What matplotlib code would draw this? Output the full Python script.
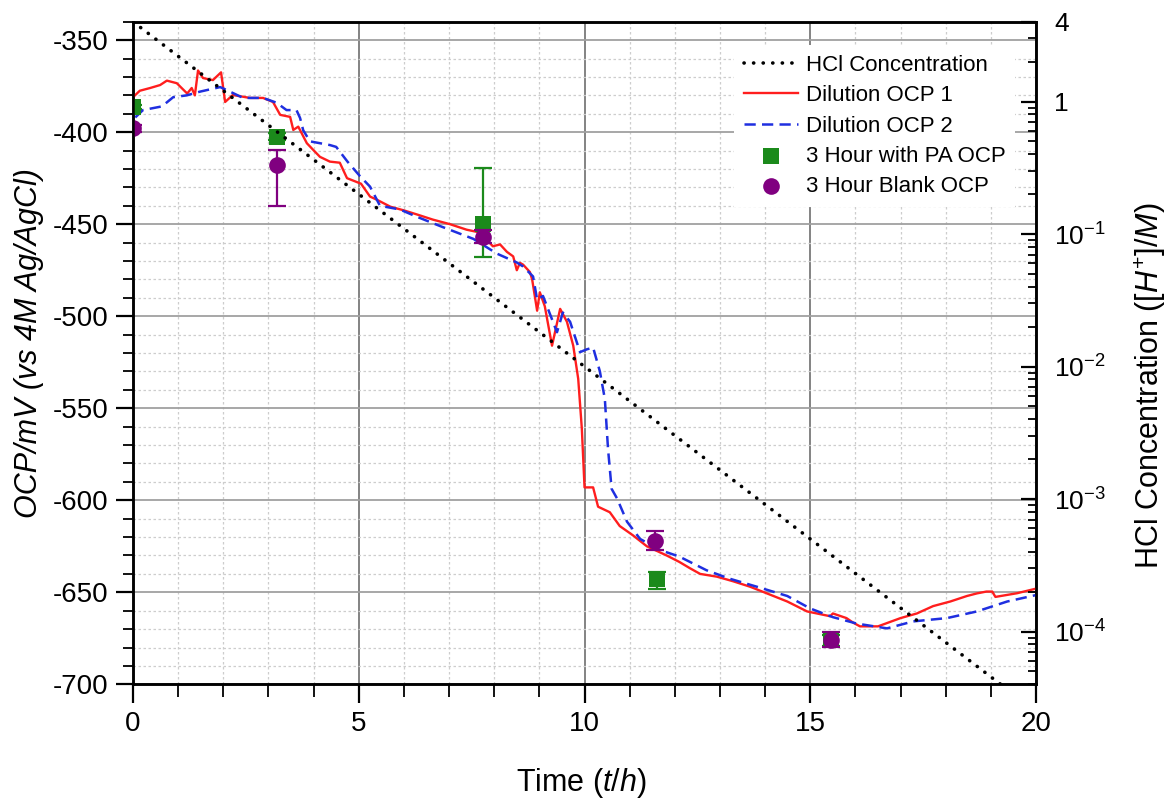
import numpy as np
import matplotlib
matplotlib.use("Agg")
import matplotlib.pyplot as plt
from matplotlib.ticker import MultipleLocator, FixedLocator, FixedFormatter, LogLocator, NullFormatter, FuncFormatter

plt.rcParams['font.family'] = ['Liberation Sans', 'DejaVu Sans']
plt.rcParams['mathtext.fontset'] = 'custom'
plt.rcParams['mathtext.rm'] = 'Liberation Sans'
plt.rcParams['mathtext.it'] = 'Liberation Sans:italic'
plt.rcParams['mathtext.bf'] = 'Liberation Sans:bold'

# ---------------- data ----------------
hcl_time = [0.0, 5.0, 10.0, 15.0, 20.0]
hcl_conc = [4.0, 0.2, 1.0e-2, 5.0e-4, 2.5e-5]

ocp1_time = [0.0, 0.15, 0.38, 0.6, 0.75, 0.97, 1.2, 1.3, 1.37, 1.44, 1.55, 1.77, 1.95, 2.04,
             2.21, 2.59, 2.88, 3.1, 3.26, 3.48, 3.55, 3.66, 3.85, 3.99, 4.14, 4.36, 4.58, 4.74,
             5.05, 5.25, 5.4, 5.7, 6.0, 6.3, 6.64, 7.02, 7.39, 7.68, 7.97, 8.13, 8.28, 8.42,
             8.5, 8.57, 8.64, 8.79, 8.84, 8.95, 9.01, 9.12, 9.28, 9.46, 9.61, 9.75, 9.86, 9.94,
             10.0, 10.19, 10.3, 10.56, 10.78, 11.07, 11.38, 11.82, 12.1, 12.34, 12.56, 12.93,
             13.29, 13.67, 14.04, 14.49, 14.93, 15.44, 15.5, 15.8, 15.95, 16.1, 16.5, 17.0,
             17.36, 17.72, 18.1, 18.47, 18.69, 18.9, 19.03, 19.1, 19.58, 20.0]
ocp1_mv = [-381, -377.5, -376, -374.4, -372, -373.4, -379, -376, -380, -366.5, -370.6, -371.7,
           -367.5, -383.6, -379.8, -381.4, -381.4, -383.6, -390.6, -391.7, -398.8, -397, -406,
           -409.6, -413.4, -416, -416.6, -425, -428, -435, -436.7, -440.5, -442.5, -444.8,
           -447.5, -450, -453, -454.5, -462, -461, -465, -467.5, -475, -471, -472, -476, -480,
           -497, -487, -494.6, -516, -496, -503, -516, -534, -561, -593, -593, -603.5, -606.5,
           -614, -619, -625, -630, -633.5, -637, -640, -641.5, -644, -647, -650.6, -655, -660.4,
           -663, -661.5, -664, -666.5, -668.5, -668.5, -664, -661.5, -657.5, -655, -652,
           -650.6, -649.6, -649.6, -652.5, -650.5, -648]

ocp2_time = [0.05, 0.22, 0.64, 0.89, 1.19, 1.48, 1.93, 2.15, 2.44, 2.88, 3.18, 3.4, 3.62, 3.7,
             3.77, 3.92, 4.36, 4.5, 4.75, 5.03, 5.25, 5.47, 5.91, 6.29, 6.8, 7.17, 7.54, 8.06,
             8.5, 8.64, 8.86, 8.95, 9.08, 9.39, 9.52, 9.68, 9.9, 10.05, 10.19, 10.34, 10.45,
             10.52, 10.6, 10.72, 10.94, 11.23, 11.67, 12.1, 12.7, 13.2, 13.82, 14.49, 15.0,
             15.5, 16.03, 16.7, 17.28, 18.03, 18.69, 19.36, 20.0]
ocp2_mv = [-392, -388, -386, -381, -380, -378, -375.5, -378, -381.4, -381.4, -384, -388, -388,
           -392.3, -399, -405, -407, -408, -416, -424, -429.6, -440, -442, -446, -451, -454.5,
           -458, -466, -470.8, -473, -478.4, -491, -489, -508.7, -498, -503, -519.5, -518, -517,
           -530, -545, -572, -593.8, -599, -611.6, -621, -627, -630.6, -638, -642.5, -647, -652,
           -658.8, -663.5, -667, -669.6, -665.8, -664, -660.4, -655, -651.5]

pa_time = [0.0, 3.2, 7.75, 11.6, 15.45]
pa_mv = [-386.5, -402.5, -450.0, -643.0, -676.0]
pa_err_low = [1.0, 2.0, 18.0, 5.0, 3.0]
pa_err_high = [1.0, 2.0, 30.5, 4.0, 3.0]

blank_time = [0.0, 3.2, 7.75, 11.55, 15.45]
blank_mv = [-398.0, -418.0, -457.0, -622.0, -676.0]
blank_err_low = [2.0, 22.0, 3.0, 5.0, 3.5]
blank_err_high = [2.0, 8.5, 4.0, 5.5, 4.5]

right_ticks = [1e-4, 1e-3, 1e-2, 1e-1, 1.0, 4.0]
right_ticklabels = ['10$^{-4}$', '10$^{-3}$', '10$^{-2}$', '10$^{-1}$', '1', '4']

# ---------------- figure ----------------
fig = plt.figure(figsize=(11.76, 8.05), dpi=100)
ax = fig.add_axes([0.1131, 0.1499, 0.7679, 0.8231])
ax2 = ax.twinx()

red = '#ff1e1e'
blue = '#1f2fe0'
green = '#1b8a1b'
purple = '#800080'

l1, = ax.plot(ocp1_time, ocp1_mv, color=red, lw=1.7, zorder=3, label='Dilution OCP 1')
l2, = ax.plot(ocp2_time, ocp2_mv, color=blue, lw=1.8, ls=(0, (4.5, 2.5)), zorder=3,
              label='Dilution OCP 2')

yerr_pa = np.array([pa_err_low, pa_err_high])
yerr_bl = np.array([blank_err_low, blank_err_high])
ax.errorbar(pa_time, pa_mv, yerr=yerr_pa, fmt='none', ecolor=green, elinewidth=1.6,
            capsize=6.5, capthick=1.6, zorder=4)
m1 = ax.scatter(pa_time, pa_mv, marker='s', s=11.5 ** 2, color=green, linewidths=0,
                zorder=5, label='3 Hour with PA OCP')
ax.errorbar(blank_time, blank_mv, yerr=yerr_bl, fmt='none', ecolor=purple,
            elinewidth=1.6, capsize=6.5, capthick=1.6, zorder=6)
m2 = ax.scatter(blank_time, blank_mv, marker='o', s=12 ** 2, color=purple, linewidths=0,
                zorder=7, label='3 Hour Blank OCP')

lh, = ax2.plot(hcl_time, hcl_conc, color='black', lw=2.6, ls=(0, (0.05, 2.6)),
               dash_capstyle='round', label='HCl Concentration')

# axes limits & scales
ax.set_xlim(0, 20)
ax.set_ylim(-700, -340)
ax2.set_yscale('log')
ax2.set_ylim(4e-5, 4)

# ticks
ax.xaxis.set_major_locator(MultipleLocator(5))
ax.xaxis.set_minor_locator(MultipleLocator(1))
ax.yaxis.set_major_locator(MultipleLocator(50))
ax.yaxis.set_minor_locator(MultipleLocator(10))
ax.yaxis.set_major_formatter(FuncFormatter(lambda v, p: f"{v:.0f}"))
ax.xaxis.set_major_formatter(FuncFormatter(lambda v, p: f"{v:.0f}"))

ax.tick_params(axis='both', which='major', direction='out', width=1.6, labelsize=20)
ax.tick_params(axis='y', which='major', length=12, pad=6)
ax.tick_params(axis='x', which='major', length=14, pad=5)
ax.tick_params(axis='both', which='minor', direction='out', width=1.3, length=7)
ax.tick_params(axis='x', which='minor', length=9)

ax2.yaxis.set_major_locator(FixedLocator(right_ticks))
ax2.yaxis.set_major_formatter(FixedFormatter(right_ticklabels))
ax2.yaxis.set_minor_locator(LogLocator(base=10, subs=np.arange(2, 10), numticks=20))
ax2.yaxis.set_minor_formatter(NullFormatter())
ax2.tick_params(axis='y', which='major', direction='in', length=11, width=1.6,
                labelsize=19, pad=13)
ax2.tick_params(axis='y', which='minor', direction='in', length=6, width=1.3)

# grid
ax.set_axisbelow(True)
ax.xaxis.grid(True, which='major', color='#7a7a7a', lw=1.3, ls='-')
ax.yaxis.grid(True, which='major', color='#a0a0a0', lw=1.3, ls='-')
ax.grid(True, which='minor', color='#cdcdcd', lw=0.9, ls=(0, (2, 2)))

for a in (ax, ax2):
    for s in a.spines.values():
        s.set_linewidth(1.8)
        s.set_color('black')

# labels
ax.set_xlabel(r'Time ($\mathit{t/h}$)', fontsize=22, va='center')
ax.xaxis.set_label_coords(0.496, -0.149)
ax.set_ylabel('OCP/mV (vs 4M Ag/AgCl)', fontsize=22, style='italic', va='center')
ax.yaxis.set_label_coords(-0.115, 0.515)
ax2.set_ylabel(r'HCl Concentration ($\mathit{[H^{+}]/M}$)', fontsize=22, va='center',
               rotation=90)
ax2.yaxis.set_label_coords(1.126, 0.45)

# legend
leg = ax2.legend(handles=[lh, l1, l2, m1, m2], loc='upper left',
                 bbox_to_anchor=(0.666, 0.965), borderaxespad=0, frameon=True,
                 facecolor='white', edgecolor='none', framealpha=1, fancybox=False,
                 fontsize=16, handlelength=2.4, handletextpad=0.35, labelspacing=0.42,
                 borderpad=0.45, scatterpoints=1)
leg.set_zorder(20)

fig.savefig('out.png', dpi=100)
